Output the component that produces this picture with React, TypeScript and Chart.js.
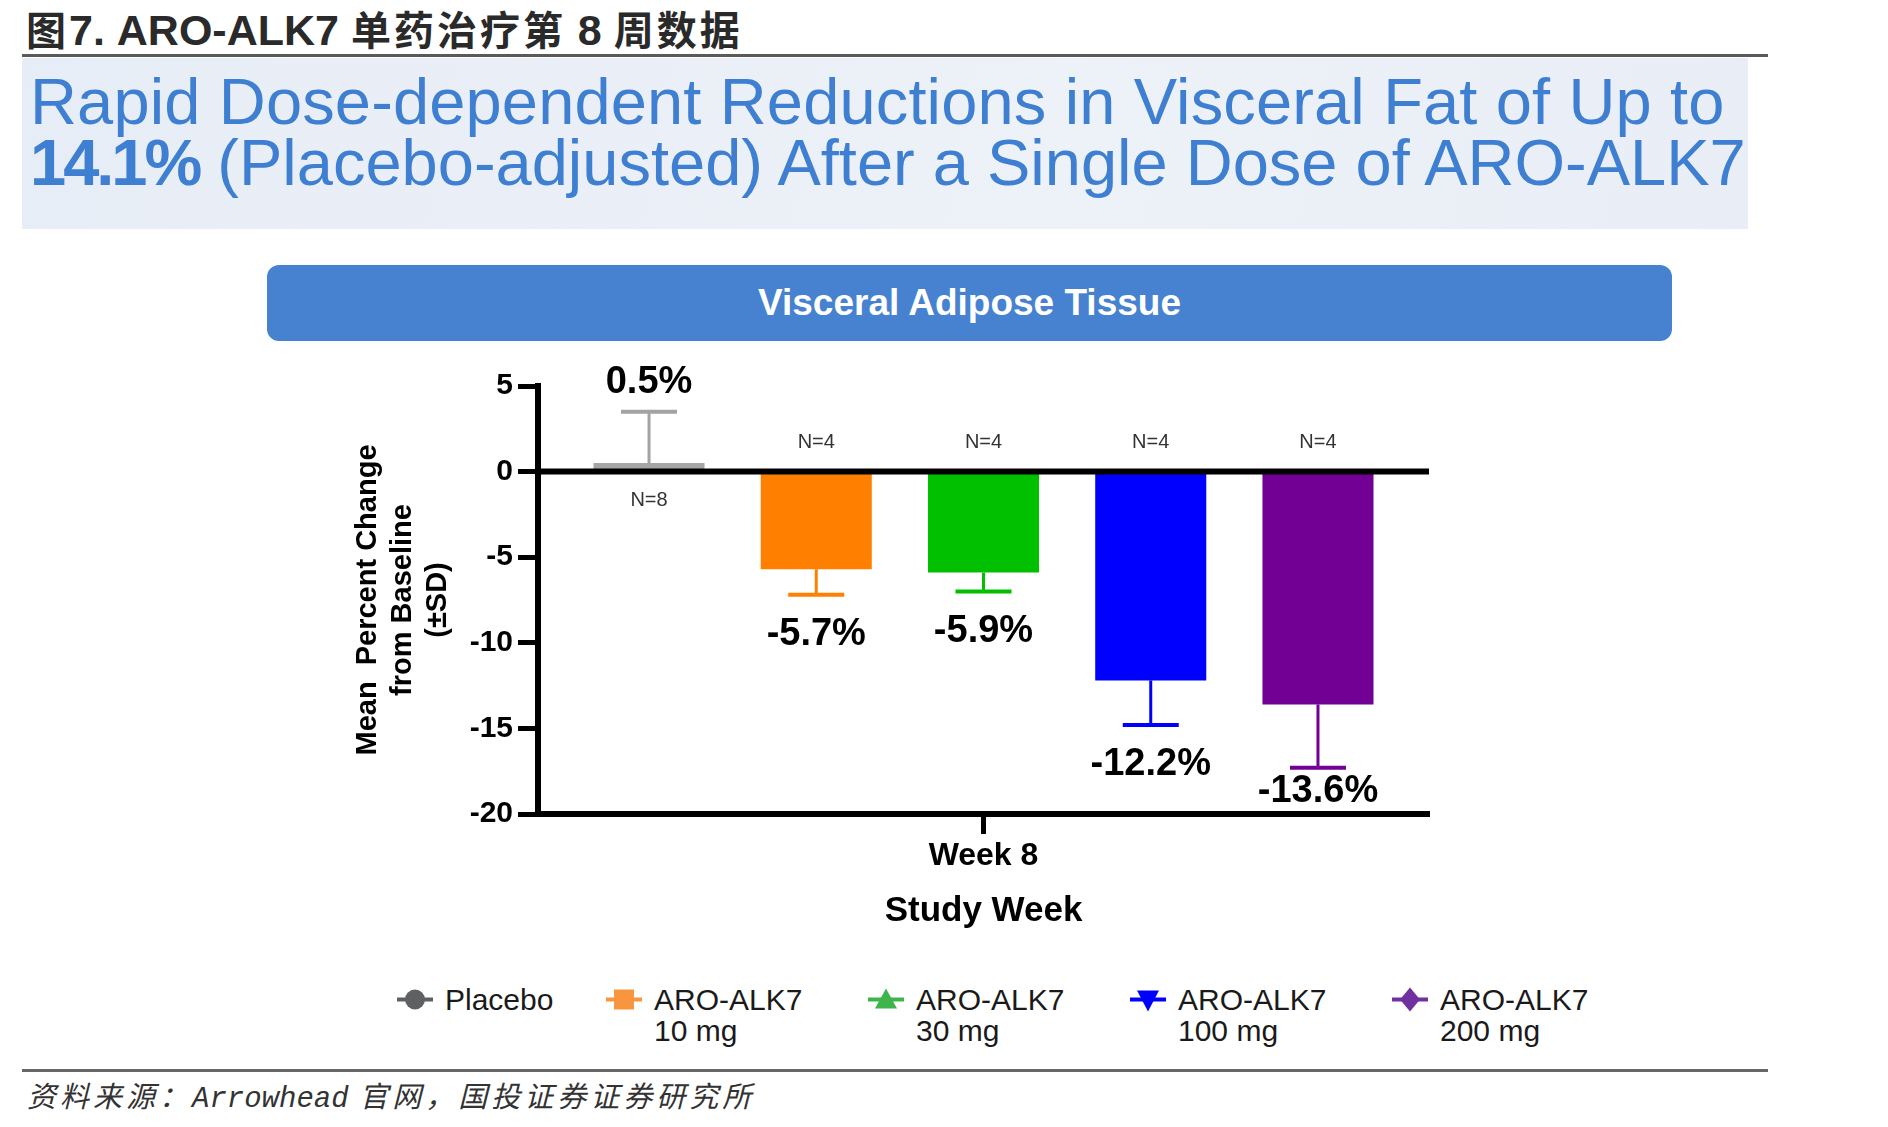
import React, { useEffect, useRef } from "react";
import { Chart, registerables } from "chart.js";

Chart.register(...registerables);

// ---------------- data ----------------
const categories = ["Placebo", "ARO-ALK7 10 mg", "ARO-ALK7 30 mg", "ARO-ALK7 100 mg", "ARO-ALK7 200 mg"];
const legendLine1 = ["Placebo", "ARO-ALK7", "ARO-ALK7", "ARO-ALK7", "ARO-ALK7"];
const legendLine2 = ["", "10 mg", "30 mg", "100 mg", "200 mg"];
const xLabels = ["Week 8"];
const meanChange = [0.5, -5.7, -5.9, -12.2, -13.6];
const sdValues = [3.0, 1.5, 1.1, 2.6, 3.7];
const sampleSizes = ["N=8", "N=4", "N=4", "N=4", "N=4"];
const yMin = -20;
const yMax = 5;
const yStep = 5;
const yTitleLines = ["Mean  Percent Change", "from Baseline", "(±SD)"];
const xTitle = "Study Week";

const barColors = ["#a6a6a6", "#ff8000", "#00c000", "#0000ff", "#730094"];
const errorColors = ["#a3a3a3", "#ff8000", "#00c000", "#0000ff", "#730094"];
const legendColors = ["#5f6062", "#f7963f", "#3db54a", "#0000ff", "#7030a0"];
const markerShapes = ["circle", "square", "triangle", "triangleDown", "diamond"];

const FONT = "'Liberation Sans', Arial, sans-serif";
const CJK = "'Noto Sans CJK SC', sans-serif";

const annotatePlugin = {
  id: "annotate",
  afterDatasetsDraw(chart: any) {
    const { ctx, chartArea, scales } = chart;
    const y = scales.y;
    const zeroY = y.getPixelForValue(0);
    ctx.save();
    // zero line
    ctx.strokeStyle = "#000";
    ctx.lineWidth = 6;
    ctx.beginPath();
    ctx.moveTo(chartArea.left, zeroY);
    ctx.lineTo(chartArea.right, zeroY);
    ctx.stroke();

    chart.data.datasets.forEach((_ds: any, i: number) => {
      const meta = chart.getDatasetMeta(i);
      const bar = meta.data[0];
      const v = meanChange[i];
      const sd = sdValues[i];
      const end = v >= 0 ? v + sd : v - sd;
      const yEnd = y.getPixelForValue(end);
      const yBar = y.getPixelForValue(v);
      ctx.strokeStyle = errorColors[i];
      ctx.lineWidth = 3;
      ctx.beginPath();
      ctx.moveTo(bar.x, yBar);
      ctx.lineTo(bar.x, yEnd);
      ctx.stroke();
      ctx.lineWidth = 4;
      ctx.beginPath();
      ctx.moveTo(bar.x - 28, yEnd);
      ctx.lineTo(bar.x + 28, yEnd);
      ctx.stroke();

      // value label
      ctx.fillStyle = "#000";
      ctx.font = `bold 38px ${FONT}`;
      ctx.textAlign = "center";
      ctx.textBaseline = "middle";
      const labelY = v >= 0 ? yEnd - 29 : Math.min(yEnd + 40, chartArea.bottom - 22);
      ctx.fillText(`${v.toFixed(1)}%`, bar.x, labelY);

      // N label
      ctx.fillStyle = "#333";
      ctx.font = `20px ${FONT}`;
      const nY = v >= 0 ? zeroY + 29 : zeroY - 29;
      ctx.fillText(sampleSizes[i], bar.x, nY);
    });
    ctx.restore();
  },
};

function Marker({ shape, color }: { shape: string; color: string }) {
  const cx = 18;
  const cy = 15.5;
  let el: any = null;
  if (shape === "circle") el = <circle cx={cx} cy={cy} r={10} fill={color} />;
  else if (shape === "square") el = <rect x={cx - 10} y={cy - 10} width={20} height={20} fill={color} />;
  else if (shape === "triangle")
    el = <polygon points={`${cx},${cy - 11} ${cx + 11},${cy + 9} ${cx - 11},${cy + 9}`} fill={color} />;
  else if (shape === "triangleDown")
    el = <polygon points={`${cx - 11},${cy - 9} ${cx + 11},${cy - 9} ${cx},${cy + 12}`} fill={color} />;
  else el = <polygon points={`${cx},${cy - 12} ${cx + 10},${cy} ${cx},${cy + 12} ${cx - 10},${cy}`} fill={color} />;
  return (
    <svg width={36} height={31} style={{ flex: "none" }}>
      <line x1={0} y1={cy} x2={36} y2={cy} stroke={color} strokeWidth={4} />
      {el}
    </svg>
  );
}

export default function App() {
  const canvasRef = useRef<HTMLCanvasElement>(null);

  useEffect(() => {
    const chart = new Chart(canvasRef.current as HTMLCanvasElement, {
      type: "bar",
      data: {
        labels: xLabels,
        datasets: categories.map((name, i) => ({
          label: name,
          data: [meanChange[i]],
          backgroundColor: barColors[i],
          borderWidth: 0,
          categoryPercentage: 0.9385,
          barPercentage: 0.664,
        })),
      },
      options: {
        responsive: false,
        animation: false,
        layout: { padding: { top: 46, right: 71, bottom: 0, left: 0 } },
        plugins: { legend: { display: false }, tooltip: { enabled: false } },
        scales: {
          x: {
            offset: true,
            grid: {
              display: true,
              drawOnChartArea: false,
              drawTicks: true,
              tickLength: 20,
              tickWidth: 5,
              tickColor: "#000",
              offset: false,
            },
            border: { display: true, color: "#000", width: 6 },
            ticks: { color: "#000", font: { family: FONT, size: 32, weight: "bold" }, padding: 3 },
            title: {
              display: true,
              text: xTitle,
              color: "#000",
              font: { family: FONT, size: 35, weight: "bold" },
              padding: { top: 0, bottom: 18 },
            },
            afterFit: (s: any) => {
              s.height = 136;
            },
          },
          y: {
            min: yMin,
            max: yMax,
            ticks: { stepSize: yStep, color: "#000", font: { family: FONT, size: 30, weight: "bold" }, padding: 5 },
            grid: {
              display: true,
              drawOnChartArea: false,
              drawTicks: true,
              tickLength: 20,
              tickWidth: 5,
              tickColor: "#000",
            },
            border: { display: true, color: "#000", width: 6 },
            title: {
              display: true,
              text: yTitleLines,
              color: "#000",
              font: { family: FONT, size: 29, weight: "bold", lineHeight: 1.2 },
              padding: { top: 50.6, bottom: 0 },
            },
            afterFit: (s: any) => {
              s.width = 238;
            },
          },
        },
      } as any,
      plugins: [annotatePlugin],
    });
    return () => chart.destroy();
  }, []);

  const cjkHead = { fontFamily: CJK, fontSize: 40, letterSpacing: 3 };
  const latHead = { fontFamily: FONT, fontSize: 43 };
  const cjkFoot = { fontFamily: CJK, fontSize: 29, letterSpacing: 4 };

  return (
    <div
      style={{
        position: "absolute",
        left: 0,
        top: 0,
        width: 1888,
        height: 1127,
        background: "#fff",
        overflow: "hidden",
      }}
    >
      {/* header */}
      <div
        style={{
          position: "absolute",
          left: 26,
          top: 4,
          height: 48,
          lineHeight: "48px",
          color: "#2a2a2a",
          whiteSpace: "nowrap",
          fontWeight: 700,
        }}
      >
        <span style={cjkHead}>图</span>
        <span style={latHead}>7. ARO-ALK7 </span>
        <span style={cjkHead}>单药治疗第</span>
        <span style={latHead}> 8 </span>
        <span style={cjkHead}>周数据</span>
      </div>
      <div style={{ position: "absolute", left: 22, top: 54, width: 1746, height: 3, background: "#5a5a5a" }} />

      {/* title panel */}
      <div
        style={{
          position: "absolute",
          left: 22,
          top: 58,
          width: 1726,
          height: 171,
          background: "linear-gradient(100deg, #e7edf6 0%, #edf1f8 60%, #e9eef6 100%)",
        }}
      >
        <div
          style={{
            position: "absolute",
            left: 8,
            top: 13,
            fontFamily: FONT,
            fontSize: 65,
            lineHeight: "61px",
            color: "#3e7fd1",
            whiteSpace: "nowrap",
          }}
        >
          <span style={{ letterSpacing: 0.15 }}>Rapid Dose-dependent Reductions in Visceral Fat of Up to</span>
          <br />
          <b style={{ letterSpacing: -3 }}>14.1%</b> (Placebo-adjusted) After a Single Dose of ARO-ALK7
        </div>
      </div>

      {/* banner */}
      <div
        style={{
          position: "absolute",
          left: 267,
          top: 265,
          width: 1405,
          height: 76,
          borderRadius: 12,
          background: "#4682d0",
          color: "#fff",
          fontFamily: FONT,
          fontWeight: 700,
          fontSize: 37,
          lineHeight: "76px",
          textAlign: "center",
        }}
      >
        Visceral Adipose Tissue
      </div>

      {/* chart */}
      <canvas
        ref={canvasRef}
        width={1200}
        height={610}
        style={{ position: "absolute", left: 300, top: 340, width: 1200, height: 610 }}
      />

      {/* legend */}
      <div
        style={{
          position: "absolute",
          left: 397,
          top: 984,
          display: "flex",
          fontFamily: FONT,
          fontSize: 30,
          lineHeight: "31px",
          color: "#1a1a1a",
        }}
      >
        {categories.map((c, i) => (
          <div key={c} style={{ display: "flex", width: i === 0 ? 209 : 262 }}>
            <Marker shape={markerShapes[i]} color={legendColors[i]} />
            <div style={{ marginLeft: 12, whiteSpace: "nowrap" }}>
              {legendLine1[i]}
              {legendLine2[i] ? (
                <>
                  <br />
                  {legendLine2[i]}
                </>
              ) : null}
            </div>
          </div>
        ))}
      </div>

      {/* footer */}
      <div style={{ position: "absolute", left: 22, top: 1069, width: 1746, height: 3, background: "#666" }} />
      <div
        style={{
          position: "absolute",
          left: 27,
          top: 1076,
          fontStyle: "italic",
          lineHeight: "36px",
          color: "#333",
          whiteSpace: "nowrap",
        }}
      >
        <span style={cjkFoot}>资料来源：</span>
        <span style={{ fontFamily: "'Liberation Mono', monospace", fontSize: 29 }}>Arrowhead</span>
        <span style={cjkFoot}> 官网，国投证券证券研究所</span>
      </div>
    </div>
  );
}
